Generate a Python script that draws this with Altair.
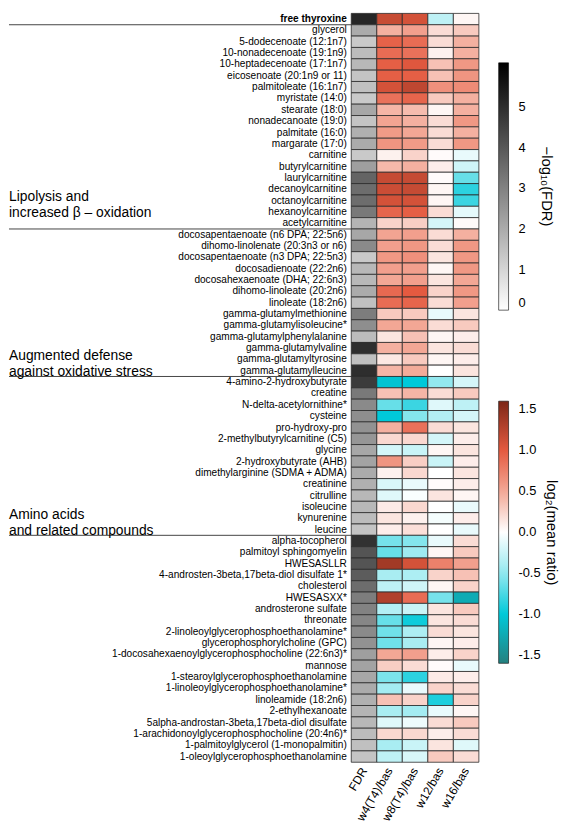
import altair as alt
import pandas as pd

names = [
    "free thyroxine",
    "glycerol", "5-dodecenoate (12:1n7)", "10-nonadecenoate (19:1n9)", "10-heptadecenoate (17:1n7)",
    "eicosenoate (20:1n9 or 11)", "palmitoleate (16:1n7)", "myristate (14:0)", "stearate (18:0)",
    "nonadecanoate (19:0)", "palmitate (16:0)", "margarate (17:0)", "carnitine", "butyrylcarnitine",
    "laurylcarnitine", "decanoylcarnitine", "octanoylcarnitine", "hexanoylcarnitine", "acetylcarnitine",
    "docosapentaenoate (n6 DPA; 22:5n6)", "dihomo-linolenate (20:3n3 or n6)", "docosapentaenoate (n3 DPA; 22:5n3)",
    "docosadienoate (22:2n6)", "docosahexaenoate (DHA; 22:6n3)", "dihomo-linoleate (20:2n6)", "linoleate (18:2n6)",
    "gamma-glutamylmethionine", "gamma-glutamylisoleucine*", "gamma-glutamylphenylalanine", "gamma-glutamylvaline",
    "gamma-glutamyltyrosine", "gamma-glutamylleucine",
    "4-amino-2-hydroxybutyrate", "creatine", "N-delta-acetylornithine*", "cysteine", "pro-hydroxy-pro",
    "2-methylbutyrylcarnitine (C5)", "glycine", "2-hydroxybutyrate (AHB)", "dimethylarginine (SDMA + ADMA)",
    "creatinine", "citrulline", "isoleucine", "kynurenine", "leucine",
    "alpha-tocopherol", "palmitoyl sphingomyelin", "HWESASLLR", "4-androsten-3beta,17beta-diol disulfate 1*",
    "cholesterol", "HWESASXX*", "androsterone sulfate", "threonate", "2-linoleoylglycerophosphoethanolamine*",
    "glycerophosphorylcholine (GPC)", "1-docosahexaenoylglycerophosphocholine (22:6n3)*", "mannose",
    "1-stearoylglycerophosphoethanolamine", "1-linoleoylglycerophosphoethanolamine*", "linoleamide (18:2n6)",
    "2-ethylhexanoate", "5alpha-androstan-3beta,17beta-diol disulfate", "1-arachidonoylglycerophosphocholine (20:4n6)*",
    "1-palmitoylglycerol (1-monopalmitin)", "1-oleoylglycerophosphoethanolamine",
]

# -log10(FDR)
fdr = [
    5.2,
    2.0, 1.3, 1.6, 1.7, 1.4, 1.5, 1.3, 2.1, 1.4, 1.9, 2.0, 1.3, 2.3, 3.7, 3.5, 3.5, 3.2, 1.8,
    2.1, 2.8, 1.3, 1.7, 1.7, 2.0, 1.5, 3.1, 2.7, 1.6, 5.0, 1.5, 5.0,
    4.7, 3.2, 2.8, 2.7, 2.6, 2.5, 2.1, 2.2, 2.0, 1.9, 1.7, 1.7, 1.6, 1.4,
    4.9, 4.1, 4.1, 3.9, 3.5, 3.1, 3.0, 2.9, 2.8, 2.6, 2.3, 2.2, 2.1, 2.0, 1.9, 1.8, 1.7, 1.6, 1.5, 1.4,
]

# log2(mean ratio)
w4 = [
    1.17,
    0.45, 0.95, 0.88, 0.97, 0.97, 1.10, 0.85, 0.42, 0.52, 0.58, 0.62, 0.08, 0.40, 1.18, 1.15, 1.10, 0.93, 0.25,
    0.52, 0.55, 0.60, 0.55, 0.50, 0.90, 0.88, 0.30, 0.50, 0.15, 0.45, 0.13, 0.42,
    -1.05, 0.35, -0.65, -1.00, 0.45, 0.22, -0.20, 0.62, 0.08, -0.18, -0.15, 0.12, 0.15, 0.10,
    -0.60, -0.65, 1.38, -0.40, -0.30, 1.30, -0.35, -0.65, -0.62, -0.62, 0.50, 0.28, -0.58, -0.42, 0.35,
    -0.40, -0.15, 0.22, -0.40, -0.30,
]
w8 = [
    1.10,
    0.55, 0.88, 0.85, 1.03, 0.97, 1.22, 0.93, 0.38, 0.45, 0.50, 0.58, 0.25, 0.45, 1.18, 1.18, 1.10, 0.97, 0.28,
    0.55, 0.60, 0.65, 0.55, 0.55, 1.00, 0.93, 0.30, 0.50, 0.35, 0.50, 0.30, 0.48,
    -1.00, 0.42, -0.80, -0.55, 0.85, 0.22, -0.25, 0.28, 0.22, -0.10, -0.03, 0.22, 0.08, 0.18,
    -0.55, -0.45, 1.10, -0.38, -0.22, 0.88, -0.25, -0.95, -0.38, -0.40, 0.55, 0.20, -0.85, -0.10, 0.25,
    -0.42, -0.08, 0.22, -0.25, -0.18,
]
w12 = [
    -0.30,
    0.20, 0.20, 0.08, 0.35, 0.35, 0.65, 0.30, 0.05, 0.20, 0.20, 0.20, 0.02, 0.10, 0.02, 0.05, 0.05, 0.20, -0.20,
    0.20, 0.20, 0.15, 0.05, 0.15, 0.25, 0.20, -0.10, 0.20, 0.05, 0.15, 0.05, 0.00,
    -0.50, 0.20, -0.15, -0.35, 0.20, -0.20, 0.05, -0.25, 0.00, 0.02, 0.15, 0.00, -0.05, 0.00,
    -0.10, 0.05, 0.75, 0.25, 0.05, -0.60, 0.15, 0.15, 0.20, 0.05, 0.10, 0.02, 0.12, 0.25, -0.90,
    -0.10, 0.20, 0.10, 0.15, 0.30,
]
w16 = [
    0.05,
    0.30, 0.45, 0.45, 0.60, 0.62, 0.68, 0.45, 0.45, 0.60, 0.45, 0.60, -0.10, -0.22, -0.65, -0.85, -0.80, -0.12, 0.03,
    0.45, 0.60, 0.60, 0.60, 0.50, 0.60, 0.55, 0.15, 0.30, 0.10, 0.20, 0.10, 0.15,
    -0.20, 0.30, -0.30, -0.20, 0.15, 0.10, 0.15, 0.10, 0.15, 0.10, 0.05, -0.10, 0.10, -0.10,
    0.20, 0.30, 0.55, 0.35, 0.25, -1.25, 0.30, 0.20, 0.15, 0.10, 0.25, -0.10, 0.10, 0.20, 0.25,
    0.05, 0.30, 0.20, -0.15, 0.20,
]

ratio_cols = ["w4(T4)/bas", "w8(T4)/bas", "w12/bas", "w16/bas"]
columns = ["FDR"] + ratio_cols

group_labels = [
    "Lipolysis and\nincreased \u03b2 \u2013 oxidation",
    "Augmented defense\nagainst oxidative stress",
    "Amino acids\nand related compounds",
]
group_rows = ["octanoylcarnitine", "gamma-glutamyltyrosine", "kynurenine"]
separator_rows = ["free thyroxine", "acetylcarnitine", "gamma-glutamylleucine", "leucine"]

fdr_ticks = [0, 1, 2, 3, 4, 5]
ratio_ticks = [-1.5, -1.0, -0.5, 0, 0.5, 1.0, 1.5]

# ---- tables built from the arrays above
fdr_df = pd.DataFrame({"name": names, "col": "FDR", "fdr": fdr})
ratio_df = pd.DataFrame(
    [{"name": n, "col": c, "ratio": v}
     for c, series in zip(ratio_cols, [w4, w8, w12, w16])
     for n, v in zip(names, series)]
)
group_df = pd.DataFrame({"name": group_rows, "label": group_labels})
sep_df = pd.DataFrame({"name": separator_rows})

FONT = "Liberation Sans"

y_axis = alt.Axis(
    title=None, ticks=False, domain=False, labelFontSize=10.2, labelFont=FONT,
    labelColor="black", labelPadding=5, labelLimit=0,
    labelFontWeight={"condition": {"test": "datum.value == 'free thyroxine'", "value": "bold"},
                     "value": "normal"},
)
x_axis = alt.Axis(
    title=None, ticks=False, domain=False, labelAngle=-60, labelFontSize=12,
    labelFont=FONT, labelColor="black", labelPadding=6,
)
Y = alt.Y("name:N", sort=names,
          scale=alt.Scale(domain=names, paddingInner=0, paddingOuter=0), axis=y_axis)
X = alt.X("col:N", sort=columns,
          scale=alt.Scale(domain=columns, paddingInner=0, paddingOuter=0), axis=x_axis)

fdr_layer = alt.Chart(fdr_df).mark_rect(stroke="#2a2a2a", strokeWidth=0.8).encode(
    x=X, y=Y,
    color=alt.Color(
        "fdr:Q",
        scale=alt.Scale(domain=[0, 6.1], range=["#ffffff", "#000000"], interpolate="rgb"),
        legend=alt.Legend(
            orient="none", legendX=149, legendY=50, direction="vertical",
            gradientLength=250, gradientThickness=10,
            gradientStrokeColor="black", gradientStrokeWidth=0.6,
            values=fdr_ticks, labelFontSize=13, labelFont=FONT,
            labelColor="black", labelOffset=10, labelOverlap=False,
            title="\u2212log\u2081\u2080(FDR)", titleOrient="right",
            titleFontSize=15, titleFont=FONT, titleFontWeight="normal",
            titleColor="black", titleAnchor="middle", titlePadding=14, padding=0,
        ),
    ),
)

ratio_layer = alt.Chart(ratio_df).mark_rect(stroke="#2a2a2a", strokeWidth=0.8).encode(
    x=X, y=Y,
    color=alt.Color(
        "ratio:Q",
        scale=alt.Scale(
            domain=[-1.6, -1.0, -0.5, 0, 0.5, 1.0, 1.6],
            range=["#25807f", "#00c9d9", "#93e8ef", "#ffffff", "#f3a795", "#e45a40", "#7c2717"],
            interpolate="rgb",
        ),
        legend=alt.Legend(
            orient="none", legendX=149, legendY=392, direction="vertical",
            gradientLength=265, gradientThickness=10,
            gradientStrokeColor="black", gradientStrokeWidth=0.6,
            values=ratio_ticks,
            labelExpr="datum.value < 0 ? '-' + format(-datum.value, '.1f') : format(datum.value, '.1f')",
            labelFontSize=13, labelFont=FONT, labelColor="black", labelOffset=10,
            labelOverlap=False,
            title="log\u2082(mean ratio)", titleOrient="right",
            titleFontSize=15, titleFont=FONT, titleFontWeight="normal",
            titleColor="black", titleAnchor="middle", titlePadding=4, padding=0,
        ),
    ),
)

Ysep = alt.Y("name:N", sort=names, bandPosition=1,
             scale=alt.Scale(domain=names, paddingInner=0, paddingOuter=0), axis=y_axis)
sep_layer = alt.Chart(sep_df).mark_rule(color="#444444", strokeWidth=1).encode(
    y=Ysep, x=alt.value(-346), x2=alt.value(0),
)

group_layer = alt.Chart(group_df).mark_text(
    align="left", baseline="middle", fontSize=14, font=FONT, color="black",
    lineBreak="\n", lineHeight=16, dy=-3.3,
).encode(y=Y, x=alt.value(-346), text="label:N")

chart = alt.layer(fdr_layer, ratio_layer, sep_layer, group_layer).resolve_scale(
    color="independent"
).properties(width=129, height=757, padding=0).configure_view(stroke=None)

chart.save("out.html", embed_options={"renderer": "svg", "actions": False})
